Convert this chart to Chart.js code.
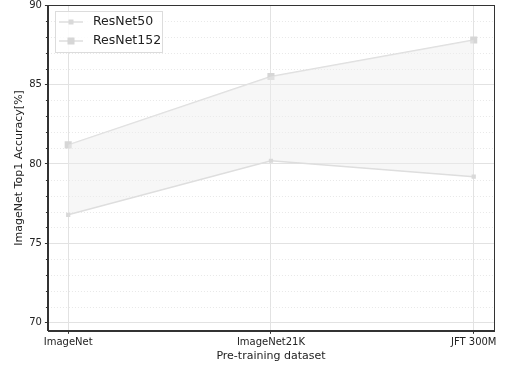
<!DOCTYPE html>
<html>
<head>
<meta charset="utf-8">
<script src="https://cdn.jsdelivr.net/npm/chart.js@4"></script>
<style>
  html, body { margin: 0; padding: 0; background: #fff; }
  #wrap { width: 513px; height: 366px; }
</style>
</head>
<body>
<div id="wrap"><canvas id="accChart" width="513" height="366"></canvas></div>
<script>
const datasetNames = ['ImageNet', 'ImageNet21K', 'JFT 300M'];
const resnet50 = [76.8, 80.2, 79.2];
const resnet152 = [81.2, 85.5, 87.8];
const yTicks = [70, 75, 80, 85, 90];
const yMin = 69.5, yMax = 90;

const FONT = "'DejaVu Sans', sans-serif";

// dotted minor grid, minor ticks, frame and legend box
const extras = {
    id: 'extras',
    beforeDatasetsDraw(chart) {
        const { ctx, chartArea: a, scales: { y } } = chart;
        ctx.save();
        ctx.strokeStyle = '#e8e8e8';
        ctx.lineWidth = 1;
        ctx.setLineDash([1, 2]);
        for (let v = 70; v <= 90; v++) {
            if (v % 5 === 0) continue;
            const py = Math.round(y.getPixelForValue(v)) + 0.5;
            ctx.beginPath();
            ctx.moveTo(a.left, py);
            ctx.lineTo(a.right, py);
            ctx.stroke();
        }
        ctx.restore();
    },
    afterDraw(chart) {
        const { ctx, chartArea: a, scales: { y } } = chart;
        ctx.save();
        ctx.strokeStyle = '#333';
        ctx.lineWidth = 1;
        for (let v = 70; v <= 90; v++) {
            if (v % 5 === 0) continue;
            const py = Math.round(y.getPixelForValue(v)) + 0.5;
            ctx.beginPath();
            ctx.moveTo(a.left - 2, py);
            ctx.lineTo(a.left, py);
            ctx.stroke();
        }
        ctx.strokeRect(Math.round(a.left) + 0.5, Math.round(a.top) + 0.5,
            Math.round(a.right - a.left), Math.round(a.bottom - a.top));

        // legend
        const lx = 55, ly = 11, lw = 107, lh = 41;
        ctx.fillStyle = 'rgba(255,255,255,0.85)';
        ctx.strokeStyle = '#dcdcdc';
        ctx.fillRect(lx, ly, lw, lh);
        ctx.strokeRect(lx + 0.5, ly + 0.5, lw, lh);
        ctx.font = '12.5px ' + FONT;
        ctx.textBaseline = 'middle';
        chart.data.datasets.forEach((ds, i) => {
            const cy = ly + 11 + i * 19;
            ctx.strokeStyle = ds.borderColor;
            ctx.lineWidth = 1.5;
            ctx.beginPath();
            ctx.moveTo(lx + 4, cy);
            ctx.lineTo(lx + 28, cy);
            ctx.stroke();
            const r = ds.legendBox;
            ctx.fillStyle = ds.pointBackgroundColor;
            ctx.fillRect(lx + 16 - r, cy - r, 2 * r, 2 * r);
            ctx.fillStyle = '#222';
            ctx.fillText(ds.label, lx + 38, cy);
        });
        ctx.restore();
    }
};

const toPoints = arr => arr.map((v, i) => ({ x: i, y: v }));

new Chart(document.getElementById('accChart').getContext('2d'), {
    type: 'line',
    data: {
        datasets: [{
            label: 'ResNet50',
            data: toPoints(resnet50),
            borderColor: '#dedede',
            borderWidth: 1.5,
            pointStyle: 'rect',
            pointRadius: 3,
            legendBox: 2.5,
            pointBackgroundColor: '#d9d9d9',
            pointBorderColor: '#d9d9d9',
            pointBorderWidth: 0,
            backgroundColor: 'rgba(238,238,238,0.45)',
            fill: '+1',
            tension: 0
        }, {
            label: 'ResNet152',
            data: toPoints(resnet152),
            borderColor: '#dedede',
            borderWidth: 1.5,
            pointStyle: 'rect',
            pointRadius: 5,
            legendBox: 3.5,
            pointBackgroundColor: '#d6d6d6',
            pointBorderColor: '#d6d6d6',
            pointBorderWidth: 0,
            fill: false,
            tension: 0
        }]
    },
    options: {
        responsive: false,
        animation: false,
        layout: { autoPadding: false, padding: { top: 5, right: 19, left: 13, bottom: 3 } },
        plugins: {
            legend: { display: false },
            tooltip: { enabled: false }
        },
        scales: {
            x: {
                type: 'linear',
                min: -0.1,
                max: 2.1,
                afterBuildTicks: s => { s.ticks = datasetNames.map((_, i) => ({ value: i })); },
                ticks: {
                    callback: v => datasetNames[v] ?? '',
                    color: '#222',
                    font: { family: FONT, size: 10 },
                    maxRotation: 0,
                    padding: 3
                },
                grid: { color: '#e2e2e2', tickLength: 3, tickColor: '#333' },
                border: { color: '#333' },
                title: {
                    display: true,
                    text: 'Pre-training dataset',
                    color: '#222',
                    font: { family: FONT, size: 11 },
                    padding: { top: -2, bottom: 0 }
                }
            },
            y: {
                min: yMin,
                max: yMax,
                afterBuildTicks: s => { s.ticks = yTicks.map(v => ({ value: v })); },
                afterFit: s => { s.paddingTop = 0; },
                ticks: {
                    color: '#222',
                    font: { family: FONT, size: 10 },
                    padding: 3
                },
                grid: { color: '#e2e2e2', tickLength: 3, tickColor: '#333' },
                border: { color: '#333' },
                title: {
                    display: true,
                    text: 'ImageNet Top1 Accuracy[%]',
                    color: '#222',
                    font: { family: FONT, size: 11 },
                    padding: { top: 0, bottom: 0 }
                }
            }
        }
    },
    plugins: [extras]
});
</script>
</body>
</html>
